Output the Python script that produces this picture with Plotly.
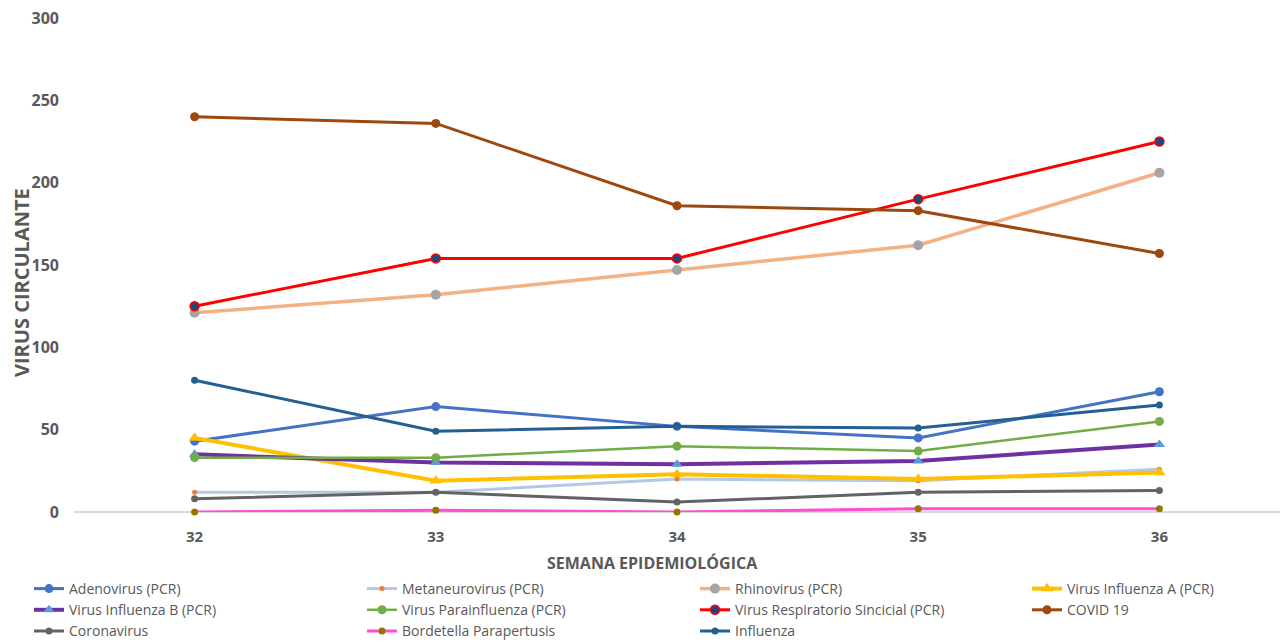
import plotly.graph_objects as go

weeks = ["32", "33", "34", "35", "36"]

adenovirus = [43, 64, 52, 45, 73]
metaneurovirus = [12, 12, 20, 19, 26]
rhinovirus = [121, 132, 147, 162, 206]
influenza_a = [45, 19, 23, 20, 24]
influenza_b = [35, 30, 29, 31, 41]
parainfluenza = [33, 33, 40, 37, 55]
vrs = [125, 154, 154, 190, 225]
covid19 = [240, 236, 186, 183, 157]
coronavirus = [8, 12, 6, 12, 13]
bordetella = [0, 1, 0, 2, 2]
influenza = [80, 49, 52, 51, 65]

y_ticks = [0, 50, 100, 150, 200, 250, 300]

# name, values, line colour, line width, marker symbol, marker colour, marker size, marker outline, legend
series = [
    ("Adenovirus (PCR)", adenovirus, "#4472C4", 3, "circle", "#4472C4", 9, None, "legend"),
    ("Virus Influenza B (PCR)", influenza_b, "#7030A0", 4, "triangle-up", "#5B9BD5", 10, None, "legend"),
    ("Coronavirus", coronavirus, "#636363", 3, "circle", "#636363", 7, None, "legend"),
    ("Metaneurovirus (PCR)", metaneurovirus, "#B4C7E7", 3, "circle", "#ED7D31", 5, None, "legend2"),
    ("Virus Parainfluenza (PCR)", parainfluenza, "#70AD47", 2.5, "circle", "#70AD47", 9, None, "legend2"),
    ("Bordetella Parapertusis", bordetella, "#FF4FD0", 3, "circle", "#997300", 7, None, "legend2"),
    ("Rhinovirus (PCR)", rhinovirus, "#F4B183", 3.5, "circle", "#A5A5A5", 10, None, "legend3"),
    ("Virus Respiratorio Sincicial (PCR)", vrs, "#FF0000", 3, "circle", "#264478", 9, "#FF0000", "legend3"),
    ("Influenza", influenza, "#255E91", 3, "circle", "#255E91", 7, None, "legend3"),
    ("Virus Influenza A (PCR)", influenza_a, "#FFC000", 4, "triangle-up", "#FFC000", 11, None, "legend4"),
    ("COVID 19", covid19, "#9E480E", 3, "circle", "#9E480E", 9, None, "legend4"),
]

draw_order = ["Adenovirus (PCR)", "Metaneurovirus (PCR)", "Rhinovirus (PCR)", "Virus Influenza A (PCR)",
              "Virus Influenza B (PCR)", "Virus Parainfluenza (PCR)", "Virus Respiratorio Sincicial (PCR)",
              "COVID 19", "Coronavirus", "Bordetella Parapertusis", "Influenza"]
lookup = {s[0]: s for s in series}

fig = go.Figure()
legend_rank = {s[0]: i for i, s in enumerate(series)}
for name in draw_order:
    n, vals, lc, lw, sym, mc, ms, mo, lg = lookup[name]
    fig.add_trace(go.Scatter(
        x=weeks, y=vals, name=n, mode="lines+markers",
        line=dict(color=lc, width=lw),
        marker=dict(symbol=sym, color=mc, size=ms,
                    line=dict(color=mo if mo else mc, width=1.5 if mo else 0)),
        legend=lg, legendrank=legend_rank[n] + 1, cliponaxis=False,
    ))

W, H = 1284, 643
ML, MR, MT, MB = 74, 4, 18, 131
PW, PH = W - ML - MR, H - MT - MB

legend_common = dict(
    xref="container", yref="container", xanchor="left", yanchor="top",
    orientation="v", bgcolor="rgba(0,0,0,0)", tracegroupgap=0,
    font=dict(family="Open Sans, sans-serif", size=14, color="#595959"),
    traceorder="normal",
)
col_x = [29, 362, 695, 1027]
leg_top = 573

layout_legends = {}
for i, key in enumerate(["legend", "legend2", "legend3", "legend4"]):
    d = dict(legend_common)
    d["x"] = col_x[i] / W
    d["y"] = 1 - leg_top / H
    layout_legends[key] = d

fig.update_layout(
    width=W, height=H,
    margin=dict(l=ML, r=MR, t=MT, b=MB, autoexpand=False),
    plot_bgcolor="white", paper_bgcolor="white",
    showlegend=True,
    xaxis=dict(
        type="category", range=[-0.5, 4.5],
        showgrid=False, showline=False, zeroline=False,
        ticks="", ticklabelstandoff=14,
        tickfont=dict(family="Open Sans, sans-serif", size=15, color="#595959", weight="bold"),
    ),
    yaxis=dict(
        range=[0, 300], tickvals=y_ticks, ticklabeloverflow="allow",
        showgrid=False, zeroline=True, zerolinecolor="#D9D9D9", zerolinewidth=1.5,
        showline=False, ticks="", ticklabelstandoff=14,
        tickfont=dict(family="Open Sans, sans-serif", size=16, color="#595959", weight="bold"),
    ),
    annotations=[
        dict(text="VIRUS CIRCULANTE", xref="paper", yref="paper",
             x=(21 - ML) / PW, y=(MT + PH - 283) / PH, textangle=-90, showarrow=False,
             xanchor="center", yanchor="middle",
             font=dict(family="Open Sans, sans-serif", size=20, color="#595959", weight="bold")),
        dict(text="SEMANA EPIDEMIOLÓGICA", xref="paper", yref="paper",
             x=(652 - ML) / PW, y=(MT + PH - 563) / PH, showarrow=False,
             xanchor="center", yanchor="middle",
             font=dict(family="Open Sans, sans-serif", size=16, color="#595959", weight="bold")),
    ],
    **layout_legends,
)

fig.write_html(
    "out.html",
    config={"displayModeBar": False},
    post_script="document.body.style.margin='0';document.body.style.overflow='hidden';",
)
